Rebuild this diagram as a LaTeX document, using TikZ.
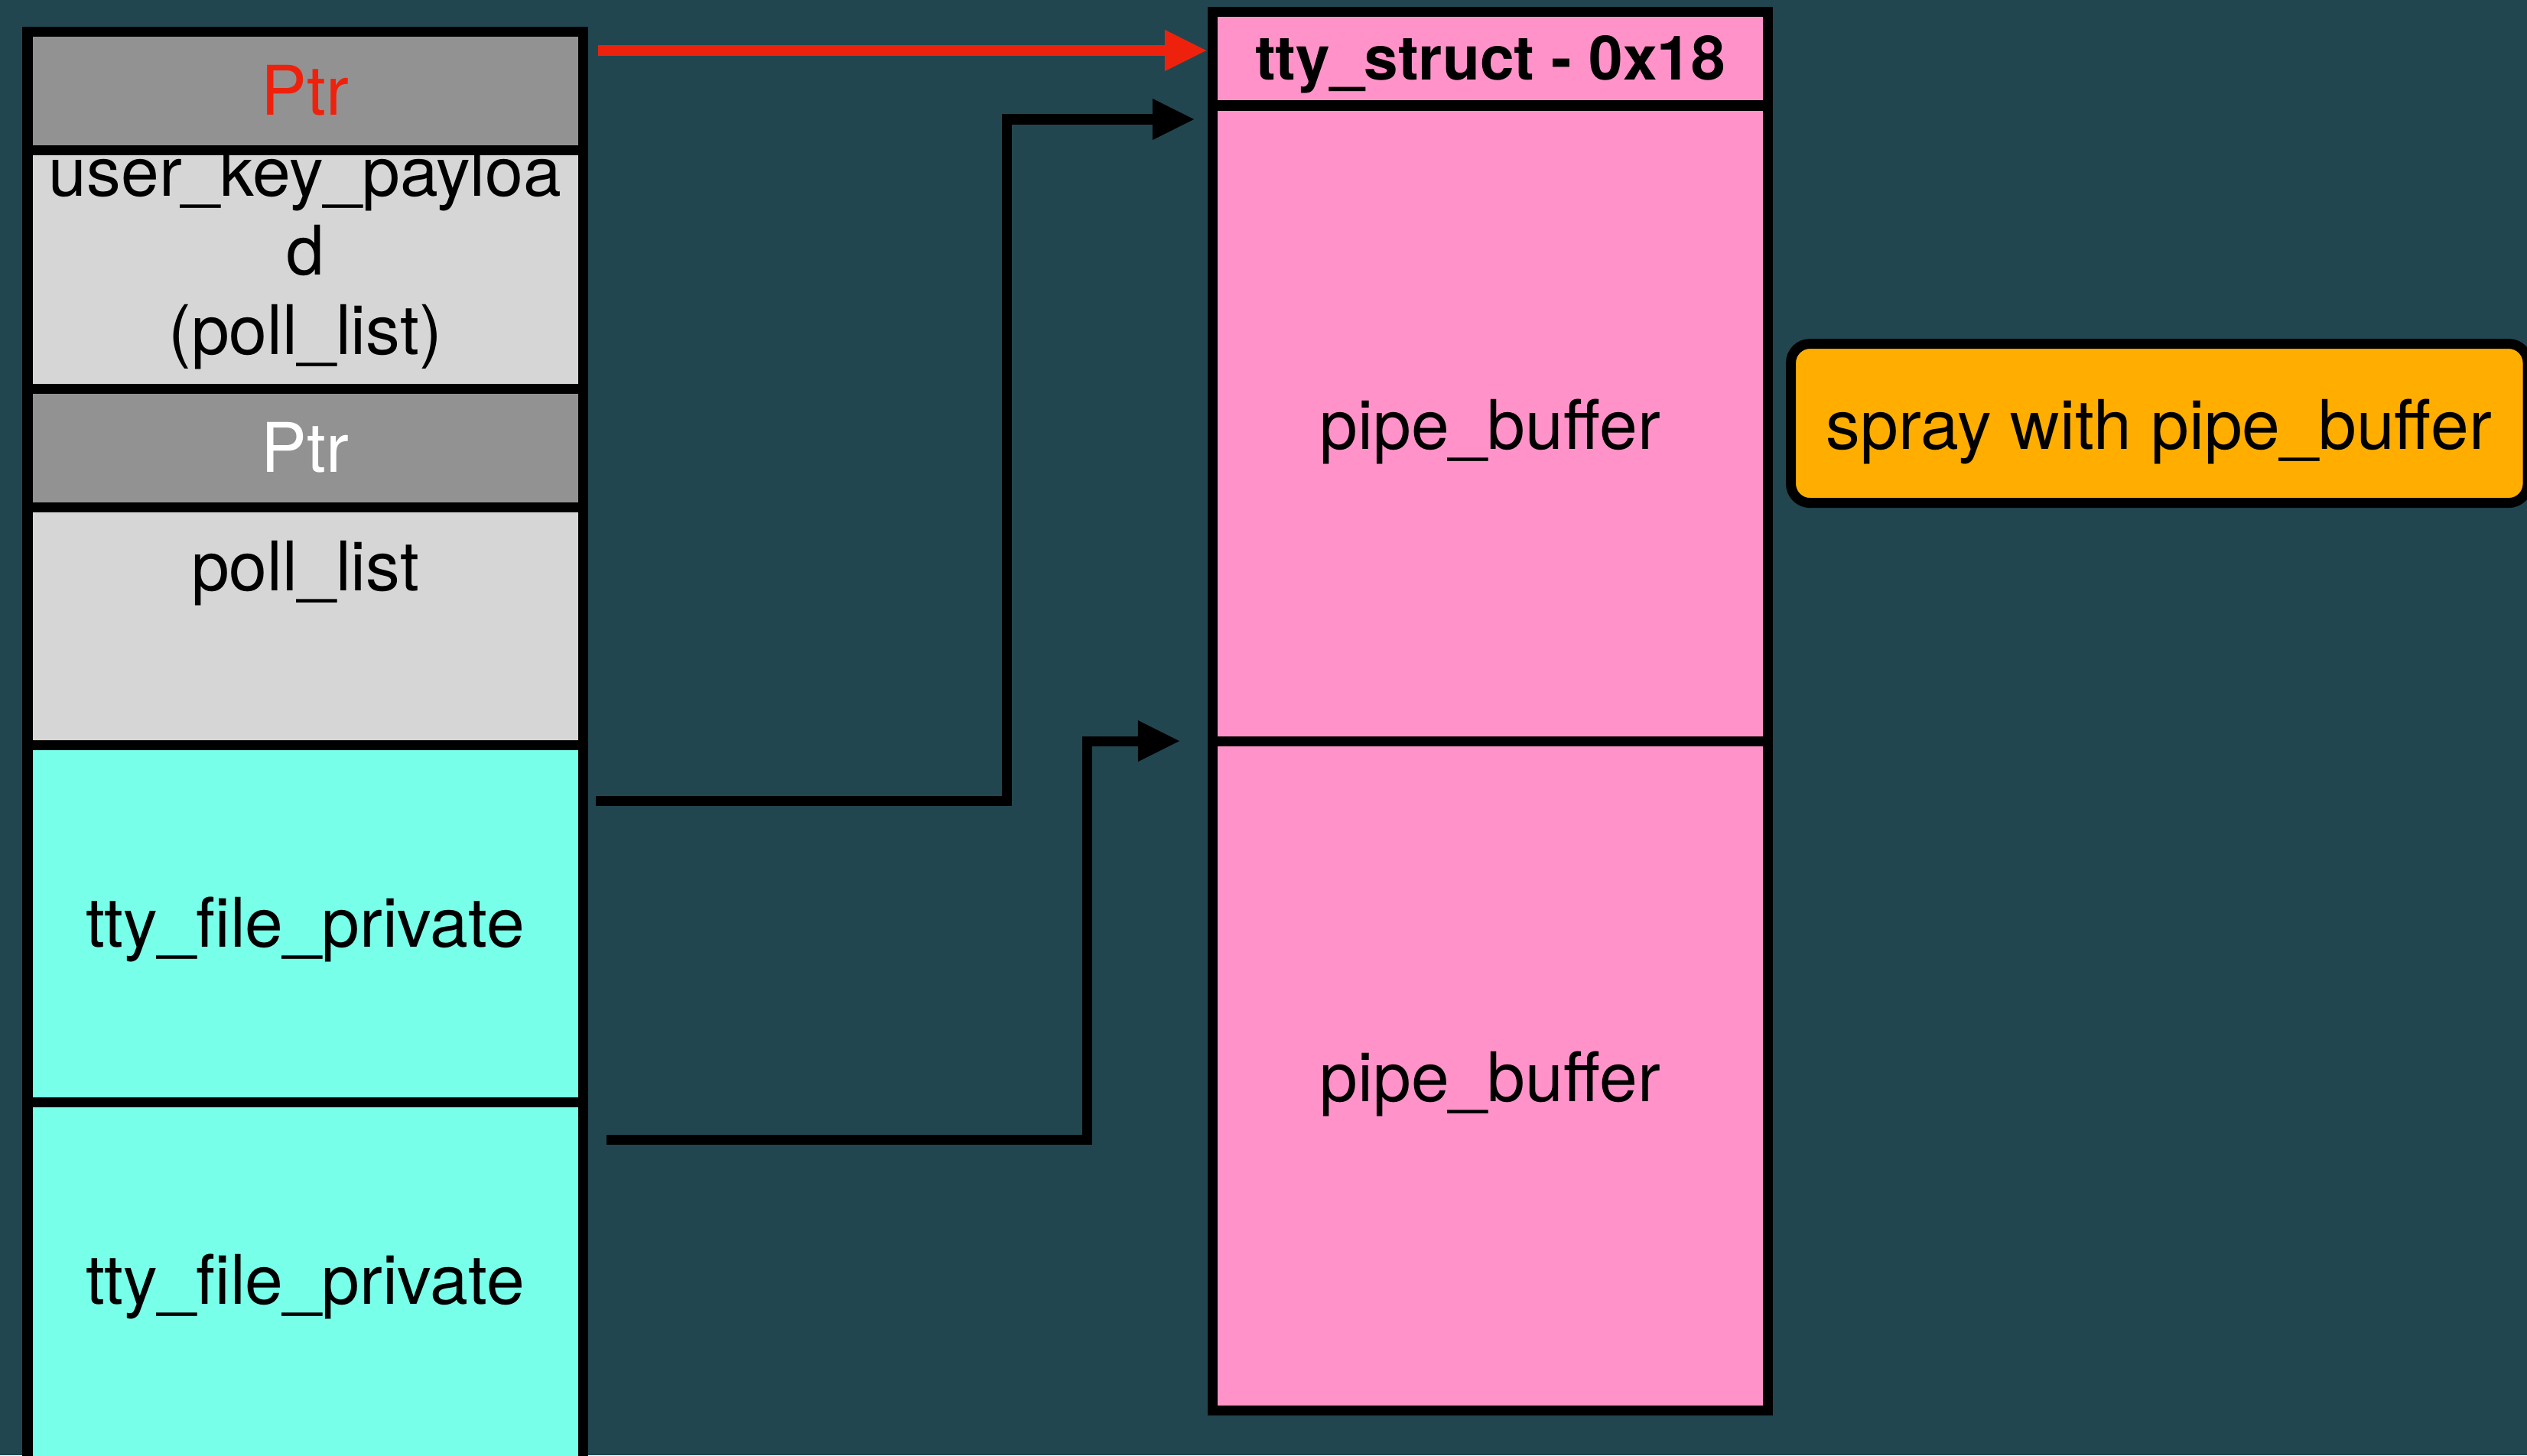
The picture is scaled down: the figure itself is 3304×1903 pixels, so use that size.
\documentclass[tikz,border=0pt]{standalone}
\usepackage{fontspec}
\setmainfont{TeX Gyre Heros}
\usetikzlibrary{arrows.meta}
\definecolor{bgc}{HTML}{224650}
\definecolor{ptrgray}{HTML}{929292}
\definecolor{lgray}{HTML}{D6D6D6}
\definecolor{cyanbox}{HTML}{78FFEA}
\definecolor{pinkbox}{HTML}{FF93C9}
\definecolor{orangebox}{HTML}{FFAE00}
\definecolor{redptr}{HTML}{EE220C}
\tikzset{
  cell/.style={draw=black, line width=0.13cm, rectangle, inner sep=0pt, outer sep=0pt,
    anchor=north west, minimum width=7.26cm},
  lbl/.style={inner sep=0pt, outer sep=0pt, anchor=base, text=black,
    font=\fontsize{25.45pt}{30pt}\selectfont},
  conn/.style={line width=0.13cm, line join=miter,
    -{Triangle[length=0.54cm,width=0.54cm,line width=0pt]}},
}
\begin{document}
\begin{tikzpicture}[x=0.01cm,y=-0.01cm]
\useasboundingbox (0,0) rectangle (3304,1903);
\fill[bgc] (0,0) rectangle (3304,1903);
\clip (0,0) rectangle (3304,1903);

% left column
\node[cell, fill=ptrgray, minimum height=1.55cm] (ptrA) at (36,41.5) {};
\node[cell, fill=lgray, minimum height=3.12cm] (ukp) at (36,196.5) {};
\node[cell, fill=ptrgray, minimum height=1.545cm] (ptrB) at (36,508.5) {};
\node[cell, fill=lgray, minimum height=3.11cm] (poll) at (36,663) {};
\node[cell, fill=cyanbox, minimum height=4.67cm] (tfpA) at (36,974) {};
\node[cell, fill=cyanbox, minimum height=4.90cm] (tfpB) at (36,1441) {};

% right column
\node[cell, fill=pinkbox, minimum height=1.225cm] (hdr) at (1585.5,15.5) {};
\node[cell, fill=pinkbox, minimum height=8.31cm] (pbA) at (1585.5,138) {};
\node[cell, fill=pinkbox, minimum height=8.745cm] (pbB) at (1585.5,969) {};

% spray box
\node[draw=black, line width=0.13cm, fill=orangebox, rounded corners=0.25cm, rectangle,
  inner sep=0pt, outer sep=0pt, anchor=north west, minimum width=9.63cm,
  minimum height=2.08cm] (spray) at (2341.5,449.5) {};

% labels
\node[lbl, text=redptr] (tPtrA) at (399,151) {Ptr};
\node[lbl] (tUkpA) at (399,256) {user\_key\_payloa};
\node[lbl] (tUkpB) at (399,359) {d};
\node[lbl] (tUkpC) at (399,463) {(poll\_list)};
\node[lbl, text=white] (tPtrB) at (399,617) {Ptr};
\node[lbl] (tPoll) at (399,772) {poll\_list};
\node[lbl] (tTfpA) at (399,1238) {tty\_file\_private};
\node[lbl] (tTfpB) at (399,1705) {tty\_file\_private};
\node[lbl, font=\fontsize{22.8pt}{27pt}\selectfont\bfseries] (tHdr) at (1948.5,105) {tty\_struct - 0x18};
\node[lbl] (tPbA) at (1948.5,587) {pipe\_buffer};
\node[lbl] (tPbB) at (1948.5,1440) {pipe\_buffer};
\node[lbl] (tSpray) at (2823,587) {spray with pipe\_buffer};

% connector end points
\coordinate (rs) at (782,66);
\coordinate (re) at (1577,66);
\coordinate (s1) at (779,1047.5);
\coordinate (k1) at (1316.5,156);
\coordinate (e1) at (1561,156);
\coordinate (s2) at (793,1490);
\coordinate (k2) at (1421,969);
\coordinate (e2) at (1542,969);

\draw[conn, draw=redptr, fill=redptr] (rs) -- (re);
\draw[conn] (s1) -| (k1) -- (e1);
\draw[conn] (s2) -| (k2) -- (e2);
\end{tikzpicture}
\end{document}
